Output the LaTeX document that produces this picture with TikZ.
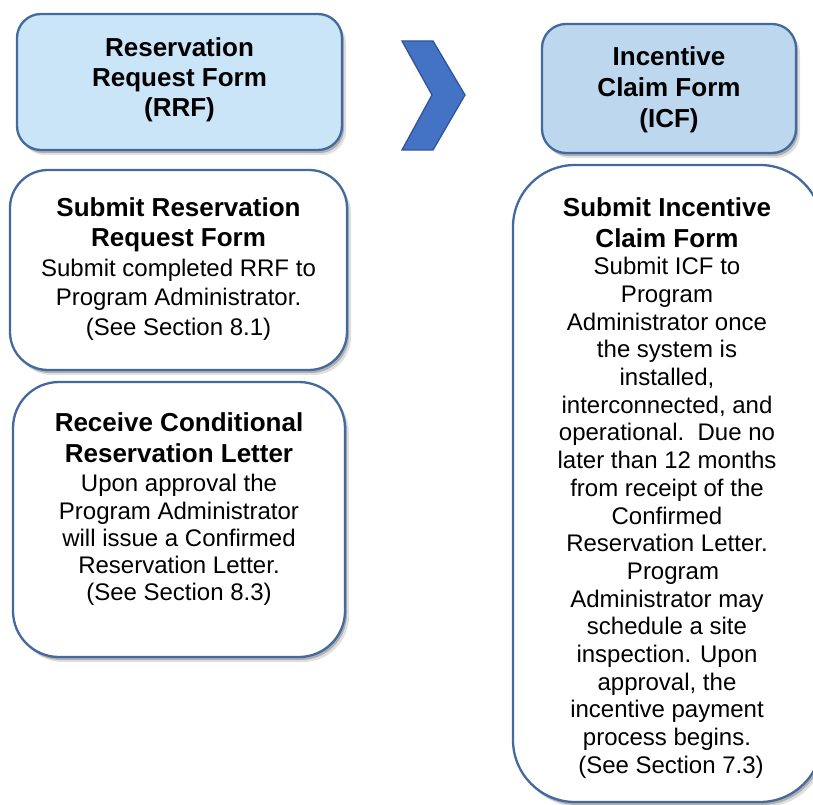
\documentclass[tikz,border=0pt]{standalone}
\usepackage{fontspec}
\setmainfont{Liberation Sans}
\usetikzlibrary{shadows}
\definecolor{hdrA}{HTML}{CAE4F8}
\definecolor{hdrB}{HTML}{BDD7EE}
\definecolor{edgeblue}{HTML}{44699F}
\definecolor{chevfill}{HTML}{4472C4}
\definecolor{chevedge}{HTML}{2F5597}
\newcommand{\hdrfontA}{\bfseries\fontsize{26}{30}\selectfont}
\newcommand{\hdrfontB}{\bfseries\fontsize{26}{31}\selectfont}
\newcommand{\ttlfont}{\bfseries\fontsize{26}{30.5}\selectfont}
\newcommand{\bdyfontA}{\fontsize{24}{29.5}\selectfont}
\newcommand{\bdyfontB}{\fontsize{24}{27.2}\selectfont}
\newcommand{\bdyfontC}{\fontsize{24}{27.7}\selectfont}
\newcommand{\cbox}[1]{\parbox{330pt}{\centering #1}}
\tikzset{
  softshadow/.style={
    drop shadow={shadow xshift=4pt, shadow yshift=-5pt, opacity=0.12, fill=black},
    drop shadow={shadow xshift=2pt, shadow yshift=-3pt, opacity=0.22, fill=black}},
  box/.style={draw=edgeblue, line width=2.3pt, inner sep=0pt, softshadow},
  txt/.style={inner sep=0pt},
}
\begin{document}
\begin{tikzpicture}[x=1pt,y=1pt]
\useasboundingbox (0,0) rectangle (813,804);
\clip (0,0) rectangle (813,804);
% header boxes
\node[box, fill=hdrA, rounded corners=24pt, minimum width=325pt, minimum height=136pt] (rrf) at (179.5,722) {};
\node[txt] (rrft) at (179.5,724) {\cbox{\hdrfontA Reservation\\Request Form\\(RRF)\par}};
\node[box, fill=hdrB, rounded corners=24pt, minimum width=254pt, minimum height=129pt] (icf) at (669,715.5) {};
\node[txt] (icft) at (669,714) {\cbox{\hdrfontB Incentive\\Claim Form\\(ICF)\par}};
% chevron
\draw[fill=chevfill, draw=chevedge, line width=1.3pt, line join=miter]
  (402,763) -- (433,763) -- (465,709) -- (433,654) -- (402,654) -- (432,709) -- cycle;
% step boxes
\node[box, fill=white, rounded corners=38pt, minimum width=337pt, minimum height=200pt] (srrf) at (178.5,534) {};
\node[txt] (srrft) at (178.5,535) {\cbox{{\ttlfont Submit Reservation\\Request Form\par}{\bdyfontA Submit completed RRF to\\Program Administrator.\\(See Section 8.1)\par}}};
\node[box, fill=white, rounded corners=46pt, minimum width=332pt, minimum height=275pt] (rcl) at (179,284.5) {};
\node[txt] (rclt) at (179,294.75) {\cbox{{\ttlfont Receive Conditional\\Reservation Letter\par}\vspace{2.5pt}{\bdyfontB Upon approval the\\Program Administrator\\will issue a Confirmed\\Reservation Letter.\\(See Section 8.3)\par}}};
\node[box, fill=white, rounded corners=62pt, minimum width=309pt, minimum height=637pt] (sicf) at (667.5,320.5) {};
\node[txt] (sicft) at (667,316) {\cbox{{\ttlfont Submit Incentive\\Claim Form\par}{\bdyfontC Submit ICF to\\Program\\Administrator once\\the system is\\installed,\\interconnected, and\\operational.\ \ Due no\\later than 12 months\\from receipt of the\\Confirmed\\Reservation Letter.\\\hspace*{12pt}Program\\Administrator may\\schedule a site\\inspection. Upon\\approval, the\\incentive payment\\process begins.\\\hspace*{8pt}(See Section 7.3)\par}}};
\end{tikzpicture}
\end{document}
